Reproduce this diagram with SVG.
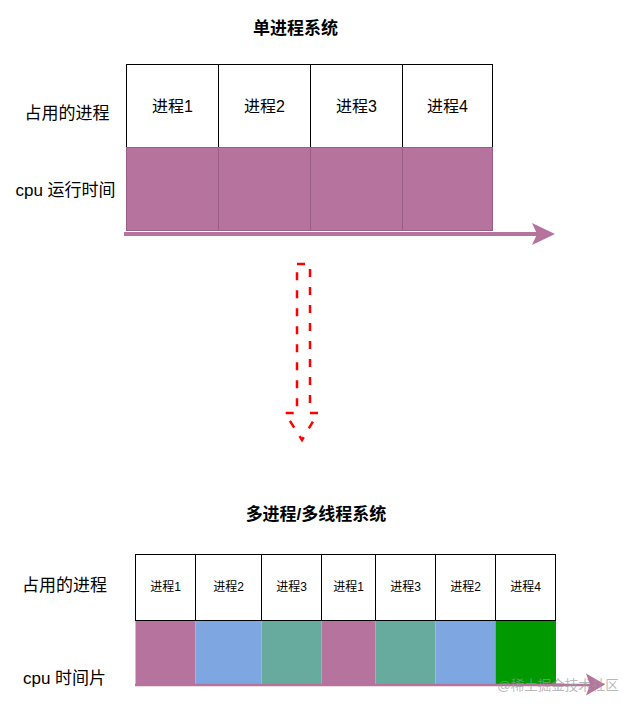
<svg xmlns="http://www.w3.org/2000/svg" width="637" height="712" viewBox="0 0 637 712">
<style>
text{font-family:"Liberation Sans","Noto Sans CJK SC",sans-serif;fill:#000;text-anchor:middle}
.title{font-size:17px;font-weight:bold}
.lbl{font-size:17px}
.cell{fill:#fff;stroke:#000;stroke-width:1}
.cellt{font-size:16px}
.cells{font-size:12px}
.mag{fill:#B5739D}
.magb{fill:#B5739D;stroke:#9A5E86;stroke-width:1}
.blue{fill:#7EA6E0}
.teal{fill:#67AB9F}
.green{fill:#009900}
.wm{font-size:13.5px;fill:#9a9a9a;fill-opacity:0.7}
</style>
<rect width="637" height="712" fill="#fff"/>

<g id="title-single"><text class="title" x="295.5" y="34">单进程系统</text></g>
<g id="label-proc-top"><text class="lbl" x="67" y="119">占用的进程</text></g>
<g id="label-cpu-top"><text class="lbl" x="65.5" y="196">cpu 运行时间</text></g>

<g id="top-p1"><rect class="cell" x="126.5" y="64.5" width="92" height="83"/><text class="cellt" x="172.5" y="112">进程1</text></g>
<g id="top-p2"><rect class="cell" x="218.5" y="64.5" width="92" height="83"/><text class="cellt" x="264.5" y="112">进程2</text></g>
<g id="top-p3"><rect class="cell" x="310.5" y="64.5" width="92" height="83"/><text class="cellt" x="356.5" y="112">进程3</text></g>
<g id="top-p4"><rect class="cell" x="402.5" y="64.5" width="90" height="83"/><text class="cellt" x="447.5" y="112">进程4</text></g>

<g id="top-cpu1"><rect class="magb" x="126.5" y="147.5" width="92" height="83"/></g>
<g id="top-cpu2"><rect class="magb" x="218.5" y="147.5" width="92" height="83"/></g>
<g id="top-cpu3"><rect class="magb" x="310.5" y="147.5" width="92" height="83"/></g>
<g id="top-cpu4"><rect class="magb" x="402.5" y="147.5" width="90" height="83"/></g>

<g id="title-multi"><text class="title" x="316" y="519.5">多进程/多线程系统</text></g>
<g id="label-proc-bottom"><text class="lbl" x="64.5" y="591">占用的进程</text></g>
<g id="label-cpu-bottom"><text class="lbl" x="64.5" y="684">cpu 时间片</text></g>

<g id="bot-p1"><rect class="cell" x="135.5" y="554.5" width="60" height="66"/><text class="cells" x="165.5" y="591">进程1</text></g>
<g id="bot-p2"><rect class="cell" x="195.5" y="554.5" width="66" height="66"/><text class="cells" x="228.5" y="591">进程2</text></g>
<g id="bot-p3"><rect class="cell" x="261.5" y="554.5" width="60" height="66"/><text class="cells" x="291.5" y="591">进程3</text></g>
<g id="bot-p1b"><rect class="cell" x="321.5" y="554.5" width="54" height="66"/><text class="cells" x="348.5" y="591">进程1</text></g>
<g id="bot-p3b"><rect class="cell" x="375.5" y="554.5" width="60" height="66"/><text class="cells" x="405.5" y="591">进程3</text></g>
<g id="bot-p2b"><rect class="cell" x="435.5" y="554.5" width="60" height="66"/><text class="cells" x="465.5" y="591">进程2</text></g>
<g id="bot-p4"><rect class="cell" x="495.5" y="554.5" width="60" height="66"/><text class="cells" x="525.5" y="591">进程4</text></g>

<g id="bot-cpu1"><rect class="mag" x="135.5" y="621" width="60" height="63.5"/></g>
<g id="bot-cpu2"><rect class="blue" x="195.5" y="621" width="66" height="63.5"/></g>
<g id="bot-cpu3"><rect class="teal" x="261.5" y="621" width="60" height="63.5"/></g>
<g id="bot-cpu4"><rect class="mag" x="321.5" y="621" width="54" height="63.5"/></g>
<g id="bot-cpu5"><rect class="teal" x="375.5" y="621" width="60" height="63.5"/></g>
<g id="bot-cpu6"><rect class="blue" x="435.5" y="621" width="60" height="63.5"/></g>
<g id="bot-cpu7"><rect class="green" x="495.5" y="621" width="60.5" height="63.5"/></g>

<g id="connectors">
  <line x1="124" y1="234" x2="537" y2="234" stroke="#B5739D" stroke-width="4"/>
  <path d="M555,234 L532,223 L537,234 L532,245 Z" fill="#B5739D"/>
  <path d="M297,264 L310,264 L310,413 L318,413 L302,440 L285,413 L297,413 Z" fill="none" stroke="#FF0000" stroke-width="2.5" stroke-dasharray="8 10"/>
  <line x1="135" y1="685" x2="591" y2="685" stroke="#B5739D" stroke-width="2.5"/>
  <path d="M605,684.5 L586,673.5 L590,684.5 L586,695.5 Z" fill="#B5739D"/>
</g>

<g id="watermark"><text class="wm" x="558" y="690">@稀土掘金技术社区</text></g>
</svg>
